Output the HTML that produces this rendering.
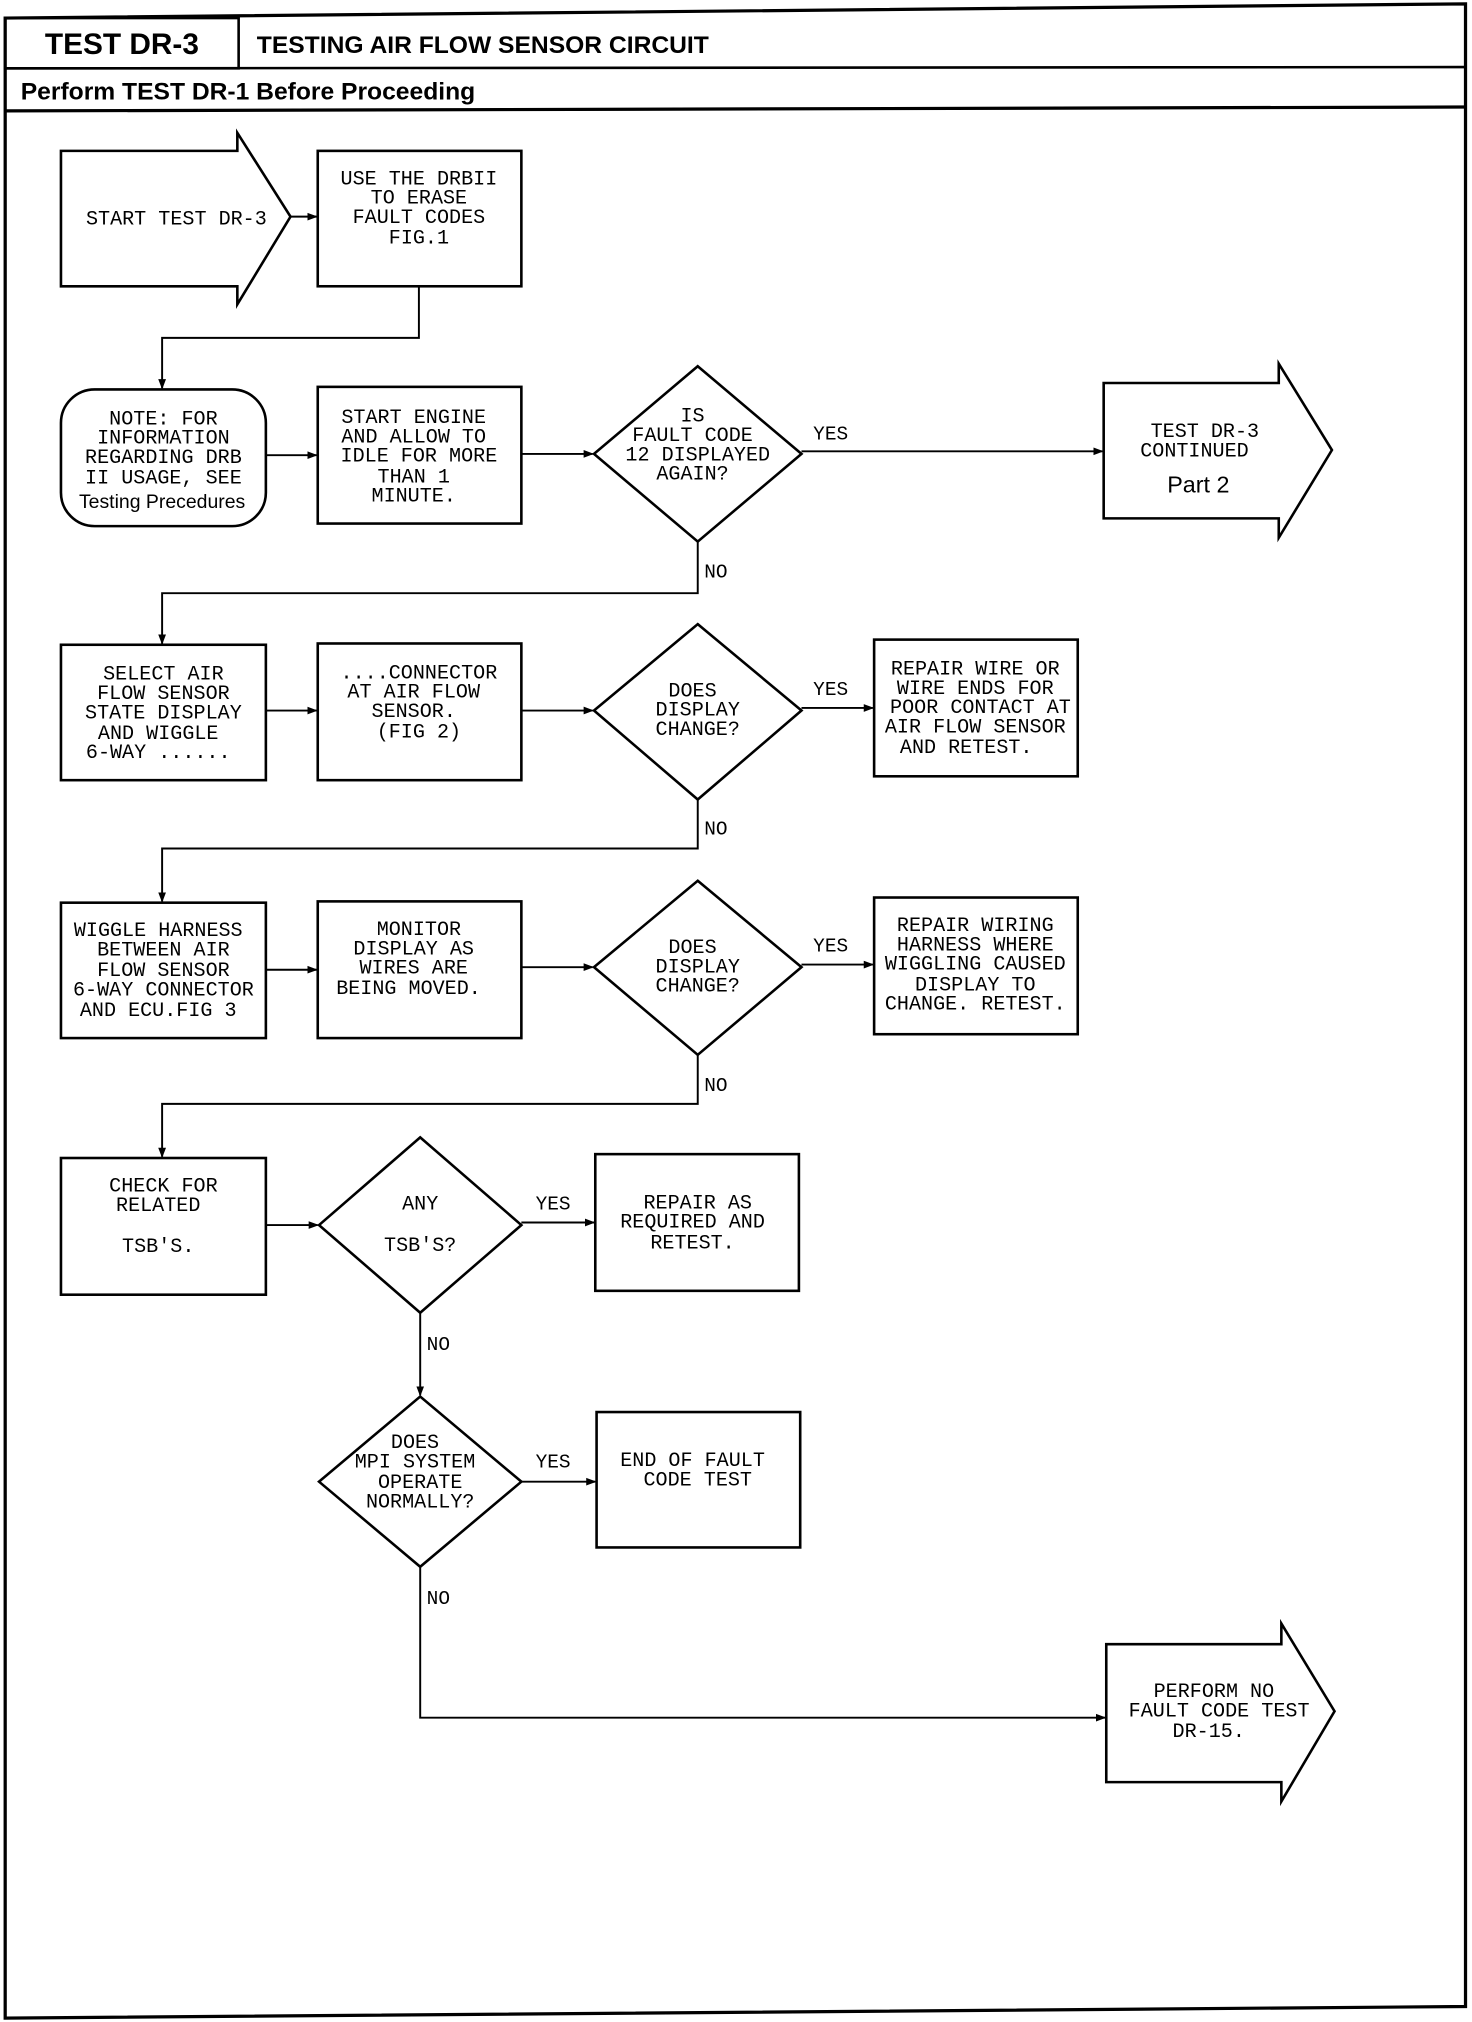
<!DOCTYPE html>
<html><head><meta charset="utf-8"><style>
html,body{margin:0;padding:0;background:#fff;}
svg{display:block;}
.t{font-family:"Liberation Mono",monospace;font-size:15.5px;text-anchor:middle;fill:#000;}
.l{font-family:"Liberation Mono",monospace;font-size:15px;fill:#000;}
</style></head><body>
<svg width="1472" height="2022" viewBox="0 0 1135 1568" preserveAspectRatio="none" xmlns="http://www.w3.org/2000/svg">
<defs><marker id="a" markerWidth="8" markerHeight="8" refX="7" refY="4" orient="auto" markerUnits="userSpaceOnUse"><path d="M0,1 L8,4 L0,7z" fill="#000"/></marker></defs>
<g fill="none" stroke="#000" stroke-width="2">
<path d="M4,14 L1130,3 L1130,1556 L4,1565 Z" stroke-width="2.5"/>
<rect x="4" y="14" width="180" height="39" stroke-width="2"/>
<line x1="4" y1="53" x2="1130" y2="52"/>
<line x1="4" y1="86" x2="1130" y2="83" stroke-width="2.5"/>
<polygon points="47,117 183,117 183,103 224,168 183,236 183,222 47,222"/>
<rect x="245" y="117" width="157" height="105"/>
<rect x="47" y="302" width="158" height="106" rx="26"/>
<rect x="245" y="300" width="157" height="106"/>
<polygon points="538,284 618,352 538,420 458,352"/>
<polygon points="851,297 986,297 986,282 1027,349 986,417 986,402 851,402"/>
<rect x="47" y="500" width="158" height="105"/>
<rect x="245" y="499" width="157" height="106"/>
<polygon points="538,484 618,551 538,620 458,551"/>
<rect x="674" y="496" width="157" height="106"/>
<rect x="47" y="700" width="158" height="105"/>
<rect x="245" y="699" width="157" height="106"/>
<polygon points="538,683 618,750 538,818 458,750"/>
<rect x="674" y="696" width="157" height="106"/>
<rect x="47" y="898" width="158" height="106"/>
<polygon points="324,882 402,950 324,1018 246,950"/>
<rect x="459" y="895" width="157" height="106"/>
<polygon points="324,1083 402,1149 324,1215 246,1149"/>
<rect x="460" y="1095" width="157" height="105"/>
<polygon points="853,1275 988,1275 988,1259 1029,1327 988,1397 988,1382 853,1382"/>
</g>
<g fill="none" stroke="#000" stroke-width="1.5" marker-end="url(#a)">
<line x1="224" y1="168" x2="244" y2="168"/>
<polyline points="323,222 323,262 125,262 125,301"/>
<line x1="205" y1="353" x2="244" y2="353"/>
<line x1="402" y1="352" x2="457" y2="352"/>
<line x1="618" y1="350" x2="850" y2="350"/>
<polyline points="538,420 538,460 125,460 125,499"/>
<line x1="205" y1="551" x2="244" y2="551"/>
<line x1="402" y1="551" x2="457" y2="551"/>
<line x1="618" y1="549" x2="673" y2="549"/>
<polyline points="538,620 538,658 125,658 125,699"/>
<line x1="205" y1="752" x2="244" y2="752"/>
<line x1="402" y1="750" x2="457" y2="750"/>
<line x1="618" y1="748" x2="673" y2="748"/>
<polyline points="538,818 538,856 125,856 125,897"/>
<line x1="205" y1="950" x2="245" y2="950"/>
<line x1="402" y1="948" x2="458" y2="948"/>
<line x1="324" y1="1018" x2="324" y2="1082"/>
<line x1="402" y1="1149" x2="459" y2="1149"/>
<polyline points="324,1215 324,1332 852,1332"/>
</g>
<text x="94" y="42" style="font-family:'Liberation Sans',sans-serif;font-weight:bold;font-size:23px" text-anchor="middle">TEST DR-3</text>
<text x="198" y="41" style="font-family:'Liberation Sans',sans-serif;font-weight:bold;font-size:19px">TESTING AIR FLOW SENSOR CIRCUIT</text>
<text x="16" y="77" style="font-family:'Liberation Sans',sans-serif;font-weight:bold;font-size:19px">Perform TEST DR-1 Before Proceeding</text>
<g class="t">
<text x="136" y="174">START TEST DR-3</text>
<text x="323" y="143">USE THE DRBII</text><text x="323" y="158">TO ERASE</text><text x="323" y="173">FAULT CODES</text><text x="323" y="189">FIG.1</text>
<text x="126" y="329">NOTE: FOR</text><text x="126" y="344">INFORMATION</text><text x="126" y="359">REGARDING DRB</text><text x="126" y="375">II USAGE, SEE</text>
<text x="125" y="394" style="font-family:'Liberation Sans',sans-serif;font-size:15px">Testing Precedures</text>
<text x="319" y="328">START ENGINE</text><text x="319" y="343">AND ALLOW TO</text><text x="323" y="358">IDLE FOR MORE</text><text x="319" y="374">THAN 1</text><text x="319" y="389">MINUTE.</text>
<text x="534" y="327">IS</text><text x="534" y="342">FAULT CODE</text><text x="538" y="357">12 DISPLAYED</text><text x="534" y="372">AGAIN?</text>
<text x="929" y="339">TEST DR-3</text><text x="921" y="354">CONTINUED</text>
<text x="924" y="382" style="font-family:'Liberation Sans',sans-serif;font-size:18px">Part 2</text>
<text x="126" y="527">SELECT AIR</text><text x="126" y="542">FLOW SENSOR</text><text x="126" y="557">STATE DISPLAY</text><text x="122" y="573">AND WIGGLE</text><text x="122" y="588">6-WAY ......</text>
<text x="323" y="526">....CONNECTOR</text><text x="319" y="541">AT AIR FLOW</text><text x="319" y="556">SENSOR.</text><text x="323" y="572">(FIG 2)</text>
<text x="534" y="540">DOES</text><text x="538" y="555">DISPLAY</text><text x="538" y="570">CHANGE?</text>
<text x="752" y="523">REPAIR WIRE OR</text><text x="752" y="538">WIRE ENDS FOR</text><text x="756" y="553">POOR CONTACT AT</text><text x="752" y="568">AIR FLOW SENSOR</text><text x="745" y="584">AND RETEST.</text>
<text x="122" y="726">WIGGLE HARNESS</text><text x="126" y="741">BETWEEN AIR</text><text x="126" y="757">FLOW SENSOR</text><text x="126" y="772">6-WAY CONNECTOR</text><text x="122" y="788">AND ECU.FIG 3</text>
<text x="323" y="725">MONITOR</text><text x="319" y="740">DISPLAY AS</text><text x="319" y="755">WIRES ARE</text><text x="315" y="771">BEING MOVED.</text>
<text x="534" y="739">DOES</text><text x="538" y="754">DISPLAY</text><text x="538" y="769">CHANGE?</text>
<text x="752" y="722">REPAIR WIRING</text><text x="752" y="737">HARNESS WHERE</text><text x="752" y="752">WIGGLING CAUSED</text><text x="752" y="768">DISPLAY TO</text><text x="752" y="783">CHANGE. RETEST.</text>
<text x="126" y="924">CHECK FOR</text><text x="122" y="939">RELATED</text><text x="122" y="971">TSB'S.</text>
<text x="324" y="938">ANY</text><text x="324" y="970">TSB'S?</text>
<text x="538" y="937">REPAIR AS</text><text x="534" y="952">REQUIRED AND</text><text x="534" y="968">RETEST.</text>
<text x="320" y="1123">DOES</text><text x="320" y="1138">MPI SYSTEM</text><text x="324" y="1154">OPERATE</text><text x="324" y="1169">NORMALLY?</text>
<text x="534" y="1137">END OF FAULT</text><text x="538" y="1152">CODE TEST</text>
<text x="936" y="1316">PERFORM NO</text><text x="940" y="1331">FAULT CODE TEST</text><text x="932" y="1347">DR-15.</text>
</g>
<g class="l">
<text x="627" y="341">YES</text><text x="543" y="448">NO</text>
<text x="627" y="539">YES</text><text x="543" y="647">NO</text>
<text x="627" y="738">YES</text><text x="543" y="846">NO</text>
<text x="413" y="938">YES</text><text x="329" y="1047">NO</text>
<text x="413" y="1138">YES</text><text x="329" y="1244">NO</text>
</g>
</svg>
</body></html>
